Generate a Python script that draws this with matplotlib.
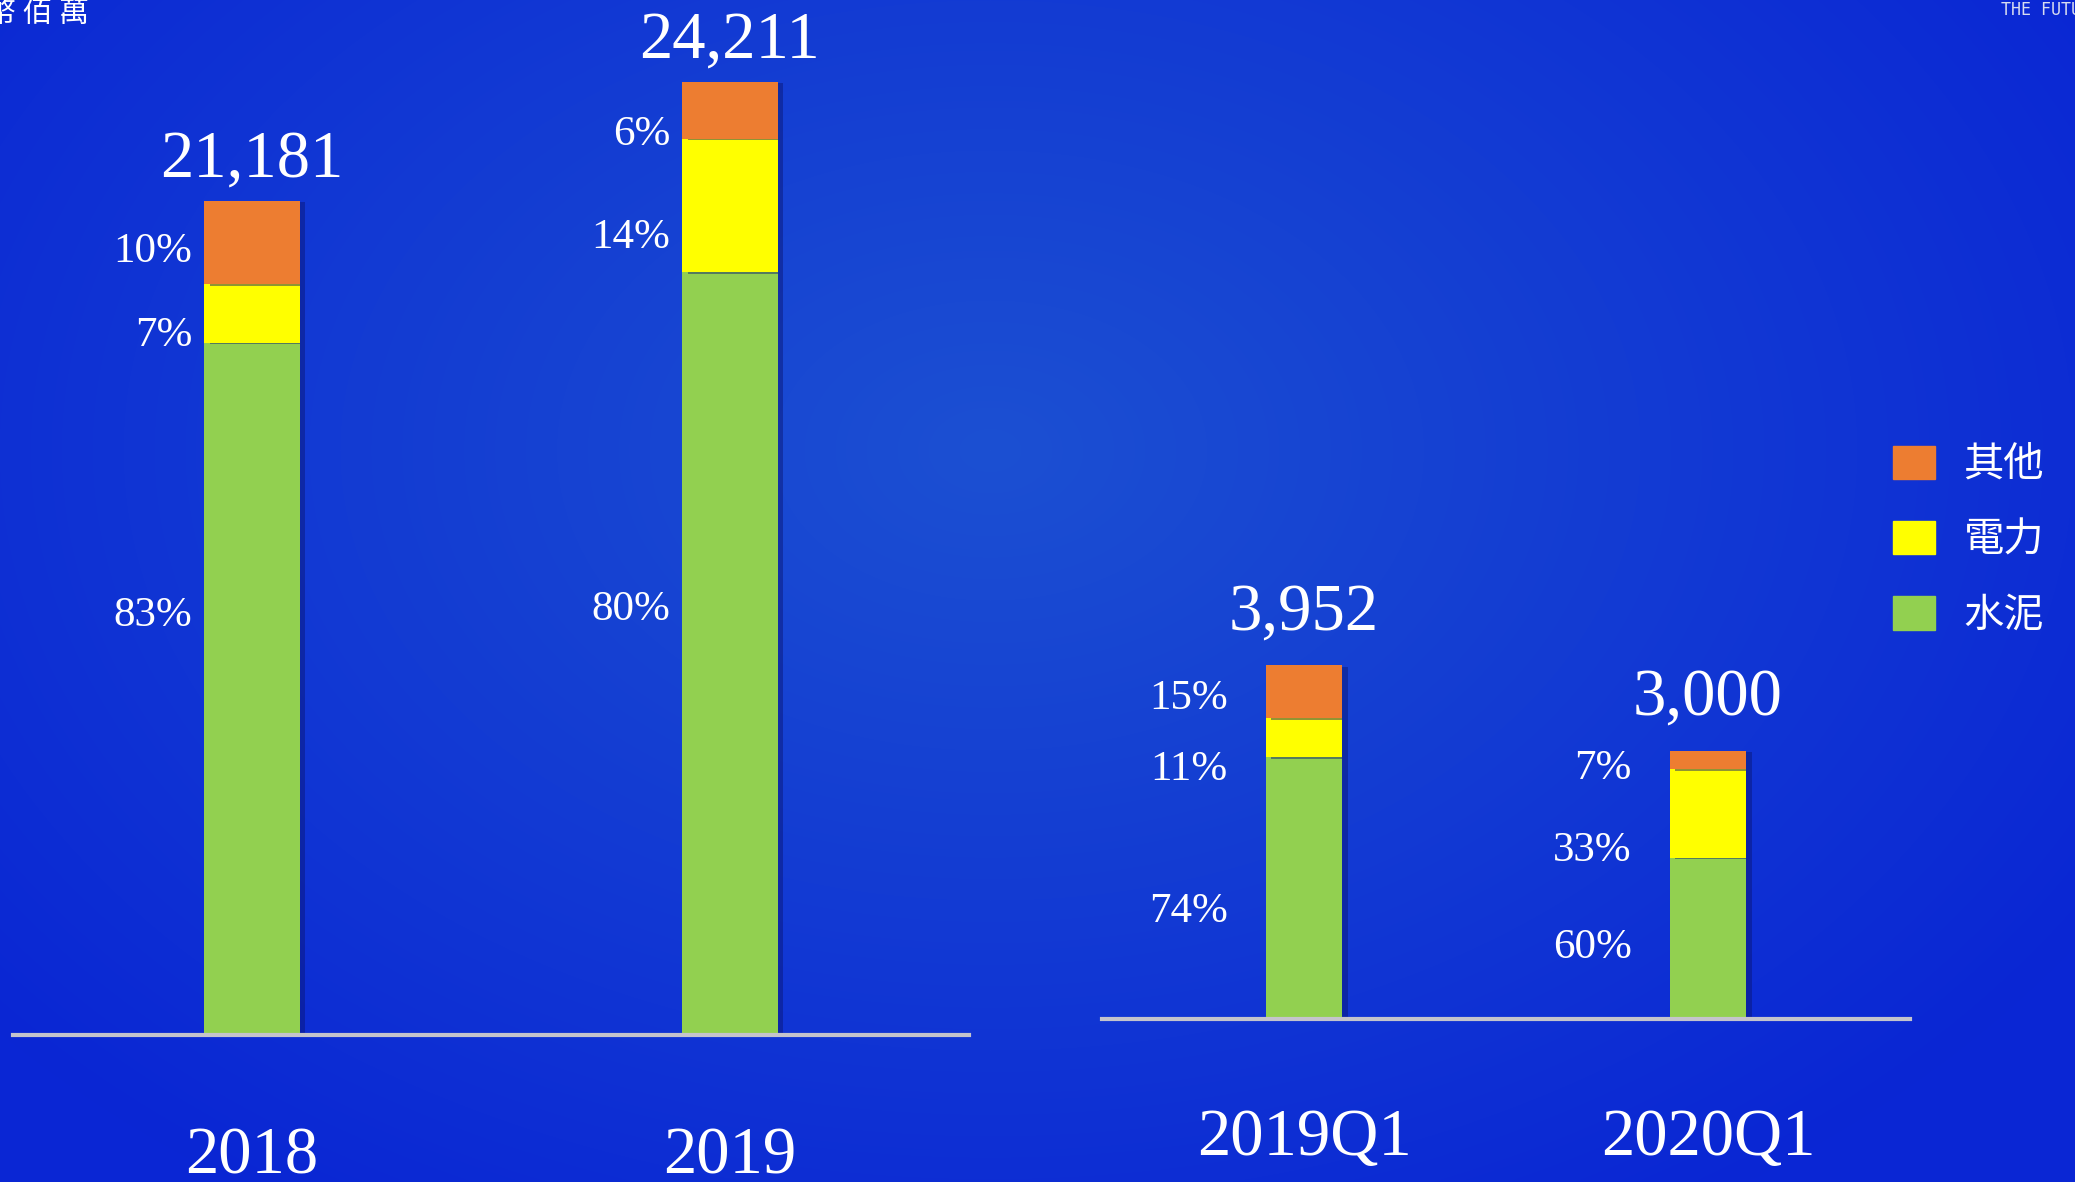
import numpy as np
import matplotlib.pyplot as plt
import matplotlib.patheffects as pe
from matplotlib.patches import Patch

# revenue, 佰萬
years = ['2018', '2019']
year_totals = [21181, 24211]
year_cement = [83, 80]
year_power = [7, 14]
year_other = [10, 6]

quarters = ['2019Q1', '2020Q1']
quarter_totals = [3952, 3000]
quarter_cement = [74, 60]
quarter_power = [11, 33]
quarter_other = [15, 7]

series_names = ['水泥', '電力', '其他']
colors = ['#92D050', '#FFFF00', '#ED7D31']

# hand placement of the % labels (pixels, + = down), per series then per bar
year_nudge = [[-73, -44], [22, 32], [9, 25]]
quarter_nudge = [[24, 9], [32, 37], [7, 9]]

W, H = 2075, 1182
fig = plt.figure(figsize=(W / 100, H / 100), dpi=100)

# radial blue background
bg = fig.add_axes([0, 0, 1, 1], zorder=0)
yy, xx = np.mgrid[0:H, 0:W]
r = np.sqrt(((xx - 990) / 1300) ** 2 + ((yy - 450) / 900) ** 2)
r = np.clip(r, 0, 1)[..., None]
inner = np.array([28, 80, 210]) / 255
outer = np.array([10, 38, 212]) / 255
bg.imshow(inner * (1 - r) + outer * r, aspect='auto', extent=[0, 1, 0, 1])
bg.axis('off')

serif = 'Liberation Serif'
shadow = [pe.SimplePatchShadow(offset=(4, -1), shadow_rgbFace='#0a1470', alpha=0.45), pe.Normal()]


def panel(ax, labels, totals, parts, nudges, width, top_pad, pct_gap, pad):
    x = np.arange(len(labels))
    bottom = np.zeros(len(labels))
    for pct, c, nd in zip(parts, colors, nudges):
        h = np.array(totals) * np.array(pct) / 100
        bars = ax.bar(x, h, width, bottom=bottom, color=c, zorder=2)
        for b in bars:
            b.set_path_effects(shadow)
        for i in range(len(labels)):
            ax.annotate(f'{pct[i]}%', xy=(x[i] - width / 2, bottom[i] + h[i] / 2),
                        xytext=(-pct_gap, -nd[i]), textcoords='offset pixels',
                        ha='right', va='center', color='white',
                        fontsize=31, family=serif)
        bottom += h
    for i, t in enumerate(totals):
        ax.annotate(f'{t:,}', xy=(x[i], t), xytext=(0, top_pad), textcoords='offset pixels',
                    ha='center', va='bottom', color='white', fontsize=48, family=serif)
    ax.set_xlim(-0.5, 1.5)
    ax.set_xticks(x, labels, fontsize=48, family=serif, color='white')
    ax.tick_params(axis='x', length=0, pad=pad)
    ax.set_yticks([])
    ax.set_facecolor('none')
    for s in ['top', 'left', 'right']:
        ax.spines[s].set_visible(False)
    ax.spines['bottom'].set_color('#c4c4cc')
    ax.spines['bottom'].set_linewidth(3)
    ax.spines['bottom'].set_zorder(3)


ax1 = fig.add_axes([13 / W, (H - 1035) / H, 956 / W, 1035 / H], zorder=1)
ax1.set_ylim(0, 1035 / 0.03938)
panel(ax1, years, year_totals, [year_cement, year_power, year_other], year_nudge,
      0.2, 10, 12, 66)

ax2 = fig.add_axes([1102 / W, (H - 1019) / H, 808 / W, 1019 / H], zorder=1)
ax2.set_ylim(0, 1019 / 0.0895)
panel(ax2, quarters, quarter_totals, [quarter_cement, quarter_power, quarter_other], quarter_nudge,
      0.19, 22, 38, 64)

handles = [Patch(color=c, label=n) for c, n in zip(colors, series_names)][::-1]
fig.legend(handles=handles, loc='center left', bbox_to_anchor=(1893 / W, 1 - 540 / H),
           frameon=False, borderpad=0, borderaxespad=0, handlelength=1.05, handleheight=0.9,
           handletextpad=0.7, labelspacing=0.85,
           prop={'family': ['Noto Sans CJK TC', 'DejaVu Sans'], 'size': 29},
           labelcolor='white')

fig.text(89 / W, 1 - 14 / H, '幣 佰 萬', ha='right', va='center', color='white',
         fontsize=21.5, family=['Noto Sans CJK TC', 'DejaVu Sans'])
fig.text(2001 / W, 1 - 10 / H, 'THE FUTURE', ha='left', va='center', color='#d8dcf0',
         fontsize=12, family='DejaVu Sans Mono')

fig.savefig('out.png', dpi=100)
